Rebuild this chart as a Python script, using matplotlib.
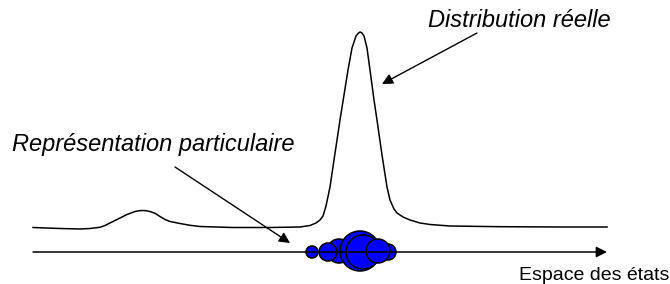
import matplotlib
matplotlib.use("Agg")
import matplotlib.pyplot as plt
from matplotlib.patches import Circle

# courbe de la distribution reelle (en pixels)
courbe_x = [33, 60, 80, 90, 100, 105, 110, 115, 120, 127, 135, 140, 143, 146, 150, 155, 160,
            165, 170, 180, 190, 200, 233, 270,
            300, 310, 316, 320, 323, 326, 330, 334, 340, 344, 348, 352, 356, 358, 360, 362,
            364, 367, 370, 374, 377, 382, 387, 390, 394, 397, 403, 410, 420, 430, 450, 500,
            560, 607]
courbe_y = [227.5, 228.5, 229, 228.5, 227.3, 225.5, 223, 220.5, 218, 214.5, 211.5, 210.6,
            210.5, 210.7, 211.5, 213.3, 216.5, 219.5, 221.5, 223.5, 225.3, 226.5, 227.5, 227.5,
            227, 225.5, 223, 220, 216, 206, 187, 160, 120, 95, 70, 48,
            36, 33.5, 32, 33, 36, 48, 70, 100, 120, 155, 187, 200, 209, 213, 217, 220, 223,
            224.5, 226, 226.7, 227, 227]

# particules sur l'axe
part_x = [339, 360, 363, 388, 378, 328, 312]
part_y = [251, 251, 252, 252, 251, 252, 252]
part_r = [12, 20, 17, 8, 12, 9, 6]

# axe des etats
axe_x = [33, 607]
axe_y = [252, 252]

textes = ["Distribution réelle", "Représentation particulaire", "Espace des états"]

fig = plt.figure(figsize=(6.7, 2.84), dpi=100)
ax = fig.add_axes([0, 0, 1, 1])
ax.set_xlim(0, 670)
ax.set_ylim(284, 0)
ax.axis("off")

ax.plot(courbe_x, courbe_y, color="black", lw=1.1, solid_joinstyle="round")

ax.annotate("", xy=(axe_x[1], axe_y[1]), xytext=(axe_x[0], axe_y[0]),
            arrowprops=dict(arrowstyle="-|>", color="black", lw=1.1,
                            mutation_scale=16, shrinkA=0, shrinkB=0))

for x, y, r in zip(part_x, part_y, part_r):
    ax.add_patch(Circle((x, y), r, facecolor="#0000ff", edgecolor="black", lw=1.1))

# fleches des annotations
ax.annotate("", xy=(382, 84), xytext=(477, 33),
            arrowprops=dict(arrowstyle="-|>", color="black", lw=1.0,
                            mutation_scale=16, shrinkA=0, shrinkB=0))
ax.annotate("", xy=(290, 243), xytext=(175, 167),
            arrowprops=dict(arrowstyle="-|>", color="black", lw=1.0,
                            mutation_scale=16, shrinkA=0, shrinkB=0))

ax.text(428, 27, textes[0], fontsize=17, style="italic", family="Liberation Sans",
        ha="left", va="baseline")
ax.text(12, 151.5, textes[1], fontsize=17, style="italic", family="Liberation Sans",
        ha="left", va="baseline")
ax.text(519, 280, textes[2], fontsize=14, family="Liberation Sans",
        ha="left", va="baseline")

fig.savefig("out.png", dpi=100)
